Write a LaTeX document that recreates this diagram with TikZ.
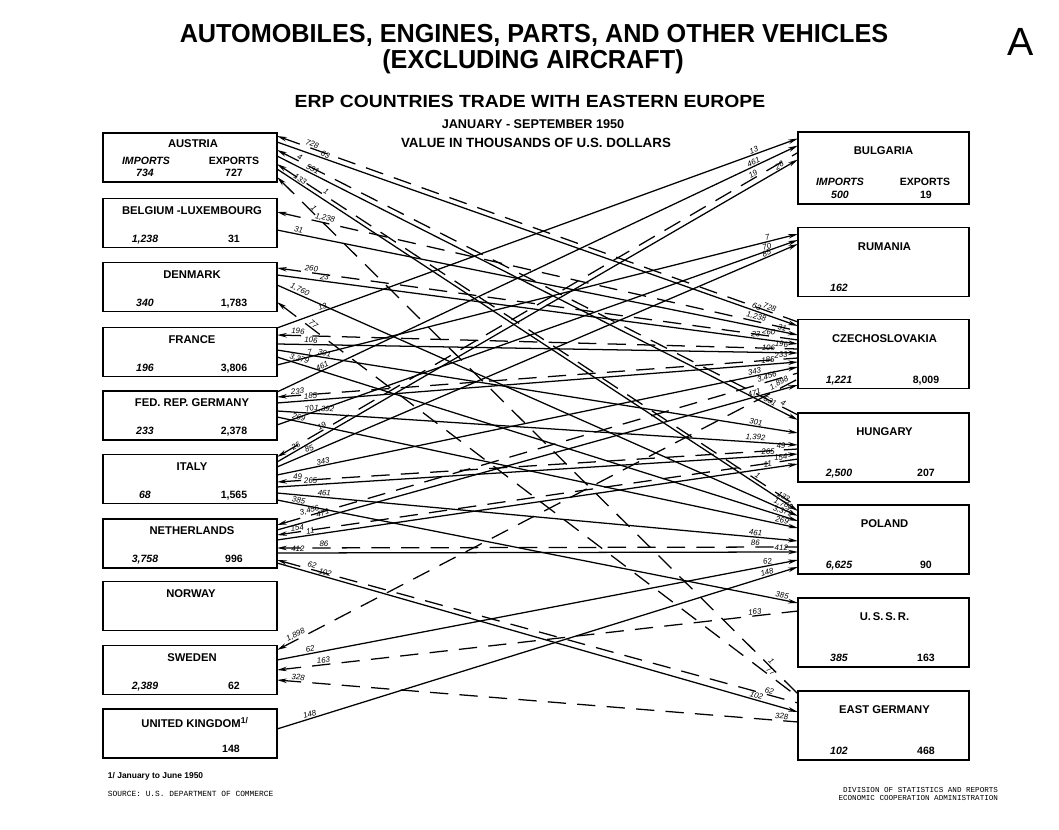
\documentclass[tikz,border=0pt]{standalone}
\usepackage{fontspec}
\setmainfont{Liberation Sans}
\setmonofont{Liberation Mono}
\usetikzlibrary{arrows.meta,calc}
\tikzset{
  wbox/.style={draw,line width=1.3pt,minimum width=4.35cm,minimum height=1.225cm,inner sep=0pt,outer sep=0pt},
  ebox/.style={wbox,minimum width=4.275cm,minimum height=1.725cm},
  cname/.style={font=\bfseries\fontsize{8}{9}\selectfont,inner sep=0pt,text depth=0pt},
  impn/.style={font=\bfseries\itshape\fontsize{7.5}{9}\selectfont,inner sep=0pt,text depth=0pt},
  expn/.style={font=\bfseries\fontsize{7.5}{9}\selectfont,inner sep=0pt,text depth=0pt},
  sale/.style={line width=.9pt,-{Stealth[length=7pt,width=3.2pt]}},
  buy/.style={sale,dash pattern=on 13pt off 8pt,{Stealth[length=7pt,width=3.2pt]}-},
  val/.style={font=\itshape\fontsize{5.6}{6}\selectfont,sloped,above,inner sep=.6pt}
}
\begin{document}
\begin{tikzpicture}[x=0.025cm,y=-0.025cm]
\fill[white] (0,0) rectangle (1059,829);
% headings
\node[font=\bfseries\fontsize{18.5}{20}\selectfont] (head1) at (534,35) {\scalebox{.97}[1]{AUTOMOBILES, ENGINES, PARTS, AND OTHER VEHICLES}};
\node[font=\bfseries\fontsize{18.5}{20}\selectfont] (head2) at (533,62) {\scalebox{.97}[1]{(EXCLUDING AIRCRAFT)}};
\node[font=\bfseries\fontsize{12.5}{14}\selectfont] (head3) at (530,101) {\scalebox{1.1}[1]{ERP COUNTRIES TRADE WITH EASTERN EUROPE}};
\node[font=\bfseries\fontsize{9}{11}\selectfont] (head4) at (533,124) {JANUARY - SEPTEMBER 1950};
\node[font=\bfseries\fontsize{9.5}{11}\selectfont] (head5) at (536,143) {VALUE IN THOUSANDS OF U.S. DOLLARS};
\node[font=\fontsize{28}{28}\selectfont] (mark) at (1021,42) {A};
% western countries
\node[wbox] (aus) at (190,157.5) {};
\node[cname] (aus-n) at ($(aus.north)+(3,11)$) {AUSTRIA};
\node[impn] (aus-ih) at ($(aus.north west)+(43,28)$) {IMPORTS};
\node[expn] (aus-eh) at ($(aus.north west)+(131,28)$) {EXPORTS};
\node[impn] (aus-i) at ($(aus.south west)+(42,-9)$) {734};
\node[expn] (aus-e) at ($(aus.south west)+(131,-9)$) {727};
\foreach \n/\y/\c/\i/\e in {bel/223/{BELGIUM -LUXEMBOURG}/{1,238}/31, den/287/DENMARK/340/{1,783},
  fra/352/FRANCE/196/{3,806}, frg/415.5/{FED. REP. GERMANY}/233/{2,378}, ita/479/ITALY/68/{1,565},
  ned/543.5/NETHERLANDS/{3,758}/996, swe/670/SWEDEN/{2,389}/62}{
  \node[wbox] (\n) at (190,\y) {};
  \node[cname] (\n-n) at ($(\n.north)+(2,12)$) {\c};
  \node[impn] (\n-i) at ($(\n.south west)+(42,-9)$) {\i};
  \node[expn] (\n-e) at ($(\n.south west)+(131,-9)$) {\e};
}
\node[wbox] (nor) at (190,606) {};
\node[cname] (nor-n) at ($(nor.north)+(1,12)$) {NORWAY};
\node[wbox] (uk) at (190,733.5) {};
\node[cname] (uk-n) at ($(uk.north)+(5,13)$) {UNITED KINGDOM\textsuperscript{1/}};
\node[expn] (uk-e) at ($(uk.south west)+(128,-9)$) {148};
% eastern countries
\node[ebox,minimum height=1.8cm] (bul) at (883.5,168) {};
\node[cname] (bul-n) at ($(bul.north)+(0,19)$) {BULGARIA};
\node[impn] (bul-ih) at ($(bul.north west)+(42,50)$) {IMPORTS};
\node[expn] (bul-eh) at ($(bul.north west)+(127,50)$) {EXPORTS};
\node[impn] (bul-i) at ($(bul.south west)+(42,-9)$) {500};
\node[expn] (bul-e) at ($(bul.south west)+(128,-9)$) {19};
\node[ebox] (rum) at (883.5,262) {};
\node[cname] (rum-n) at ($(rum.north)+(1,19)$) {RUMANIA};
\node[impn] (rum-i) at ($(rum.south west)+(41,-9)$) {162};
\foreach \n/\y/\c/\i/\e in {cze/354/CZECHOSLOVAKIA/{1,221}/{8,009}, hun/447.5/HUNGARY/{2,500}/207,
  pol/539.5/POLAND/{6,625}/90, ussr/632.5/{U.\,S.\,S.\,R.}/385/163, eg/725.5/{EAST GERMANY}/102/468}{
  \node[ebox] (\n) at (883.5,\y) {};
  \node[cname] (\n-n) at ($(\n.north)+(1,19)$) {\c};
  \node[impn] (\n-i) at ($(\n.south west)+(41,-9)$) {\i};
  \node[expn] (\n-e) at ($(\n.south west)+(128,-9)$) {\e};
}
% trade lines
\foreach \how/\from/\fy/\dest/\ty/\amt [count=\k] in {
  buy/aus/3/cze/2.5/728, sale/aus/9/cze/6.5/63, buy/aus/17/hun/2/4, sale/aus/23/hun/7/531,
  buy/aus/31/pol/2/1, sale/aus/36/pol/6/133, buy/aus/44/eg/3/1,
  buy/bel/13.5/cze/11.5/{1,238}, sale/bel/31.5/cze/15.5/31,
  buy/den/5.5/cze/20.5/260, sale/den/12.5/cze/24.5/23, sale/den/22.5/pol/11/{1,760}, buy/den/39.5/eg/6/77,
  sale/fra/0.5/bul/6.5/13, buy/fra/7.5/cze/29.5/196, sale/fra/16.5/cze/33.5/106, sale/fra/22.5/hun/20/301,
  sale/fra/29.5/pol/16/{3,379}, sale/fra/37.5/rum/6.5/7,
  sale/frg/1/bul/13.5/461, buy/frg/6/cze/38.5/233, sale/frg/12/cze/42.5/185, sale/frg/20/hun/32/{1,392},
  sale/frg/26/pol/23/269, sale/frg/34/rum/12.5/70,
  buy/ita/2.5/bul/20.5/19, sale/ita/7.5/bul/27.5/26, sale/ita/12.5/rum/16.5/85, sale/ita/20.5/cze/47.5/343,
  buy/ita/27.5/hun/36/49, sale/ita/32.5/hun/41/265, sale/ita/38.5/pol/36/461, sale/ita/45.5/ussr/5/385,
  buy/ned/6/cze/53.5/{3,456}, sale/ned/11/cze/65.5/471, buy/ned/16/hun/46/154, sale/ned/21/hun/51/11,
  buy/ned/29/pol/42/86, sale/ned/34/pol/47/412, buy/ned/41/eg/12/62, sale/ned/44/eg/21/102,
  buy/swe/4.5/cze/59.5/{1,898}, sale/swe/14.5/pol/55/62, buy/swe/24.5/ussr/13/163, buy/swe/34.5/eg/31/328,
  sale/uk/20/pol/62/148}{
  \pgfmathsetmacro\pa{.04+.025*mod(\k,3)}
  \pgfmathsetmacro\pb{.968-.025*mod(\k,3)}
  \draw[\how] ($(\from.north east)+(0,\fy)$) -- node[val,pos=\pa]{\amt} node[val,pos=\pb]{\amt} ($(\dest.north west)+(0,\ty)$);
}
% notes
\node[font=\bfseries\fontsize{6}{7}\selectfont,anchor=west] (note) at (103,776) {1/ January to June 1950};
\node[font=\ttfamily\fontsize{5.6}{7}\selectfont,anchor=west] (source) at (103,794) {SOURCE: U.S. DEPARTMENT OF COMMERCE};
\node[font=\ttfamily\fontsize{5.4}{5.6}\selectfont,anchor=east,align=right] (office) at (1003,794) {DIVISION OF STATISTICS AND REPORTS\\ECONOMIC COOPERATION ADMINISTRATION};
\end{tikzpicture}
\end{document}
